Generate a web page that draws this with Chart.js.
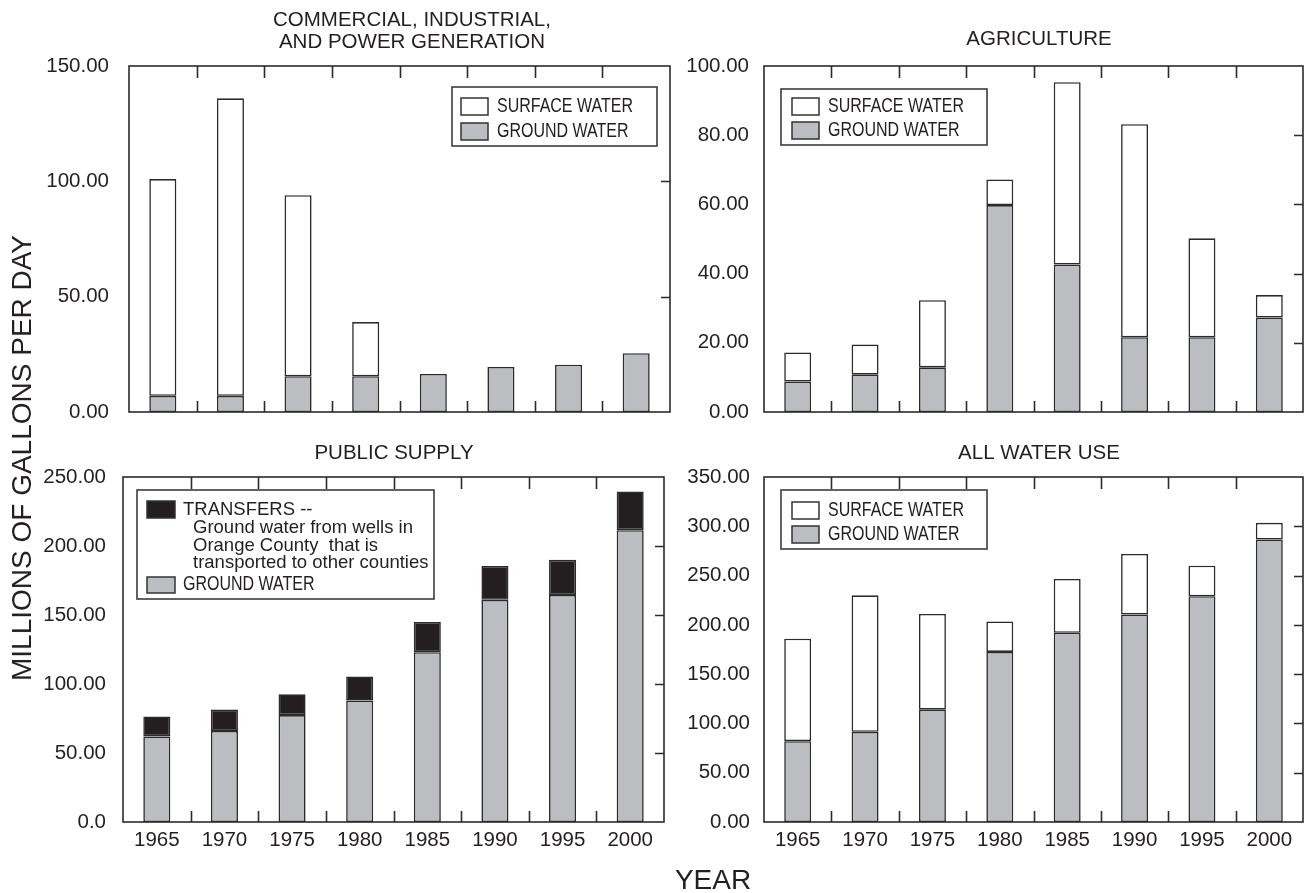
<!DOCTYPE html>
<html>
<head>
<meta charset="utf-8">
<title>Water use, 1965-2000</title>
<script src="https://cdn.jsdelivr.net/npm/chart.js@4.4.1/dist/chart.umd.min.js"></script>
<style>
  html, body { margin: 0; padding: 0; background: #fff; }
  #wrap { position: relative; width: 1305px; height: 893px; overflow: hidden;
          font-family: "Liberation Sans", Arial, Helvetica, sans-serif; color: #231f20; }
  #wrap canvas { position: absolute; left: 0; top: 0; }
  .axis-title { position: absolute; font-size: 28px; white-space: nowrap; line-height: 1; }
  #ytitle { left: 22px; top: 458px; transform: translate(-50%, -50%) rotate(-90deg); }
  #xtitle { left: 713px; top: 880px; transform: translate(-50%, -50%); }
</style>
</head>
<body>
<div id="wrap">
  <canvas id="commercial" width="1305" height="893"></canvas>
  <canvas id="agriculture" width="1305" height="893"></canvas>
  <canvas id="publicSupply" width="1305" height="893"></canvas>
  <canvas id="allUse" width="1305" height="893"></canvas>
  <div class="axis-title" id="ytitle">MILLIONS OF GALLONS PER DAY</div>
  <div class="axis-title" id="xtitle">YEAR</div>
</div>
<script>
// Water withdrawals, million gallons per day
const years = ['1965', '1970', '1975', '1980', '1985', '1990', '1995', '2000'];

const commercialGround  = [7, 7, 15.5, 15.5, 16.5, 19.5, 20.5, 25.5];
const commercialSurface = [94, 129, 78.5, 23.5, null, null, null, null];

const agricultureGround  = [8.8, 10.8, 12.9, 59.8, 42.6, 21.6, 21.6, 27.3];
const agricultureSurface = [8.4, 8.7, 19.4, 7.4, 52.7, 61.6, 28.6, 6.5];

const publicGround    = [62, 66, 77.5, 88, 123, 161, 164.5, 211.5];
const publicTransfers = [14.5, 15.5, 15, 17.5, 22, 24.5, 25.5, 28];

const allGround  = [82, 91.5, 114, 172.5, 192, 210.5, 229, 286.5];
const allSurface = [104, 138.5, 97, 31, 54.5, 61.5, 31, 17];

const commercialTicks  = ['0.00', '50.00', '100.00', '150.00'];
const agricultureTicks = ['0.00', '20.00', '40.00', '60.00', '80.00', '100.00'];
const publicTicks      = ['0.0', '50.00', '100.00', '150.00', '200.00', '250.00'];
const allTicks         = ['0.00', '50.00', '100.00', '150.00', '200.00', '250.00', '300.00', '350.00'];

const transferNote = ['Ground water from wells in', 'Orange County  that is', 'transported to other counties'];

// ---- styling ----
const INK = '#231f20';
const LINE = '#2b2b2b';
const GRAY = '#bcbdc1';
const BLACK = '#231f20';
const WHITE = '#ffffff';
const FONT = '"Liberation Sans", Arial, Helvetica, sans-serif';
const CANVAS_W = 1305, CANVAS_H = 893;
const Y_W = 110, X_H = 40;

// Plot frame, inward ticks between categories (top and bottom) and inward ticks on the right edge
const frameTicks = {
  id: 'frameTicks',
  afterDatasetsDraw(chart, args, opts) {
    const { ctx, chartArea: a, scales: { x, y } } = chart;
    ctx.save();
    ctx.strokeStyle = LINE;
    ctx.lineWidth = 1.6;
    ctx.strokeRect(a.left, a.top, a.right - a.left, a.bottom - a.top);
    ctx.beginPath();
    const n = chart.data.labels.length;
    for (let i = 0; i < n - 1; i++) {
      const px = Math.round((x.getPixelForValue(i) + x.getPixelForValue(i + 1)) / 2) + 0.5;
      ctx.moveTo(px, a.bottom); ctx.lineTo(px, a.bottom - 11);
      ctx.moveTo(px, a.top); ctx.lineTo(px, a.top + 12);
    }
    y.ticks.forEach(t => {
      if (t.value > y.min && t.value < y.max) {
        const py = Math.round(y.getPixelForValue(t.value)) + 0.5;
        ctx.moveTo(a.right, py); ctx.lineTo(a.right - 9, py);
      }
    });
    ctx.stroke();
    ctx.restore();
  }
};

// Panel heading
const panelTitle = {
  id: 'panelTitle',
  afterDraw(chart, args, opts) {
    const ctx = chart.ctx;
    ctx.save();
    ctx.fillStyle = INK;
    ctx.font = '20.5px ' + FONT;
    ctx.textAlign = 'center';
    ctx.textBaseline = 'middle';
    opts.lines.forEach((t, i) => ctx.fillText(t, opts.x, opts.ys[i]));
    ctx.restore();
  }
};

// Boxed legend drawn from the chart's own datasets
const boxLegend = {
  id: 'boxLegend',
  afterDraw(chart, args, opts) {
    const ctx = chart.ctx;
    ctx.save();
    ctx.fillStyle = '#fff';
    ctx.fillRect(opts.x, opts.y, opts.w, opts.h);
    ctx.strokeStyle = '#3c3c3c';
    ctx.lineWidth = 1.6;
    ctx.strokeRect(opts.x, opts.y, opts.w, opts.h);
    opts.items.forEach(item => {
      const ds = chart.data.datasets[item.dataset];
      const sx = opts.x + item.sw.dx, sy = opts.y + item.sw.dy;
      ctx.fillStyle = ds.backgroundColor;
      ctx.fillRect(sx, sy, item.sw.w, item.sw.h);
      ctx.strokeStyle = '#333';
      ctx.lineWidth = 1.5;
      ctx.strokeRect(sx, sy, item.sw.w, item.sw.h);
      ctx.fillStyle = INK;
      ctx.textAlign = 'left';
      ctx.textBaseline = 'middle';
      item.lines.forEach(ln => {
        ctx.save();
        ctx.font = ln.size + 'px ' + FONT;
        ctx.translate(opts.x + ln.dx, opts.y + ln.dy);
        ctx.scale(ln.sx, 1);
        ctx.fillText(ln.text !== undefined ? ln.text : ds.label, 0, 0);
        ctx.restore();
      });
    });
    ctx.restore();
  }
};

function bars(label, data, color) {
  return {
    label, data,
    backgroundColor: color,
    borderColor: LINE,
    borderWidth: 1.6,
    borderSkipped: false,
    categoryPercentage: 1,
    barPercentage: 0.4
  };
}

function makePanel(cfg) {
  const a = cfg.area;
  const maxV = parseFloat(cfg.ticks[cfg.ticks.length - 1]);
  const step = parseFloat(cfg.ticks[1]);
  return new Chart(document.getElementById(cfg.id), {
    type: 'bar',
    data: { labels: years, datasets: cfg.datasets },
    plugins: [frameTicks, panelTitle, boxLegend],
    options: {
      responsive: false,
      animation: false,
      devicePixelRatio: 1,
      events: [],
      layout: { padding: { left: a.l - Y_W, top: a.t, right: CANVAS_W - a.r, bottom: CANVAS_H - a.b - X_H } },
      plugins: {
        legend: { display: false },
        tooltip: { enabled: false },
        title: { display: false },
        panelTitle: { lines: cfg.title, ys: cfg.titleY, x: cfg.titleX },
        boxLegend: cfg.legend
      },
      scales: {
        x: {
          stacked: true,
          grid: { display: false },
          border: { display: false },
          ticks: { display: cfg.showYears, color: INK, font: { size: 20.5, family: FONT }, padding: -2, maxRotation: 0, autoSkip: false },
          afterFit(s) { s.height = X_H; }
        },
        y: {
          stacked: true,
          min: 0, max: maxV,
          grid: { display: false },
          border: { display: false },
          ticks: { stepSize: step, color: INK, font: { size: 20.5, family: FONT }, padding: cfg.labelPad,
                   callback: (v, i) => cfg.ticks[i] },
          afterFit(s) { s.width = Y_W; }
        }
      }
    }
  });
}

const waterItems = (ox, surfaceY, groundY) => ([
  { dataset: 1, sw: { dx: ox, dy: surfaceY, w: 27, h: 17 },
    lines: [{ dx: ox + 36, dy: surfaceY + 9, size: 19.5, sx: 0.82 }] },
  { dataset: 0, sw: { dx: ox, dy: groundY, w: 27, h: 17 },
    lines: [{ dx: ox + 36, dy: groundY + 9, size: 19.5, sx: 0.82 }] }
]);

makePanel({
  id: 'commercial',
  area: { l: 129, t: 66, r: 670, b: 412 },
  title: ['COMMERCIAL, INDUSTRIAL,', 'AND POWER GENERATION'], titleY: [20, 42], titleX: 412,
  ticks: commercialTicks, labelPad: 12, showYears: false,
  datasets: [bars('GROUND WATER', commercialGround, GRAY), bars('SURFACE WATER', commercialSurface, WHITE)],
  legend: { x: 452, y: 87, w: 205, h: 59, items: waterItems(9, 11, 36) }
});

makePanel({
  id: 'agriculture',
  area: { l: 764, t: 66, r: 1303, b: 412 },
  title: ['AGRICULTURE'], titleY: [39], titleX: 1039,
  ticks: agricultureTicks, labelPad: 7, showYears: false,
  datasets: [bars('GROUND WATER', agricultureGround, GRAY), bars('SURFACE WATER', agricultureSurface, WHITE)],
  legend: { x: 781, y: 89, w: 206, h: 56, items: waterItems(11, 9, 33) }
});

makePanel({
  id: 'publicSupply',
  area: { l: 123, t: 477, r: 664, b: 822 },
  title: ['PUBLIC SUPPLY'], titleX: 394, titleY: [453],
  ticks: publicTicks, labelPad: 9, showYears: true,
  datasets: [bars('GROUND WATER', publicGround, GRAY), bars('TRANSFERS --', publicTransfers, BLACK)],
  legend: {
    x: 137, y: 490, w: 297, h: 109,
    items: [
      { dataset: 1, sw: { dx: 10, dy: 11, w: 28, h: 17 },
        lines: [
          { dx: 46, dy: 20, size: 18.5, sx: 1 },
          { dx: 56, dy: 38, size: 18.5, sx: 1, text: transferNote[0] },
          { dx: 56, dy: 55.5, size: 18.5, sx: 1, text: transferNote[1] },
          { dx: 56, dy: 73, size: 18.5, sx: 1, text: transferNote[2] }
        ] },
      { dataset: 0, sw: { dx: 10, dy: 87, w: 28, h: 16 },
        lines: [{ dx: 46, dy: 95, size: 19.5, sx: 0.82 }] }
    ]
  }
});

makePanel({
  id: 'allUse',
  area: { l: 764, t: 477, r: 1303, b: 822 },
  title: ['ALL WATER USE'], titleX: 1039, titleY: [453],
  ticks: allTicks, labelPad: 6, showYears: true,
  datasets: [bars('GROUND WATER', allGround, GRAY), bars('SURFACE WATER', allSurface, WHITE)],
  legend: { x: 781, y: 490, w: 206, h: 59, items: waterItems(11, 12, 36) }
});
</script>
</body>
</html>
